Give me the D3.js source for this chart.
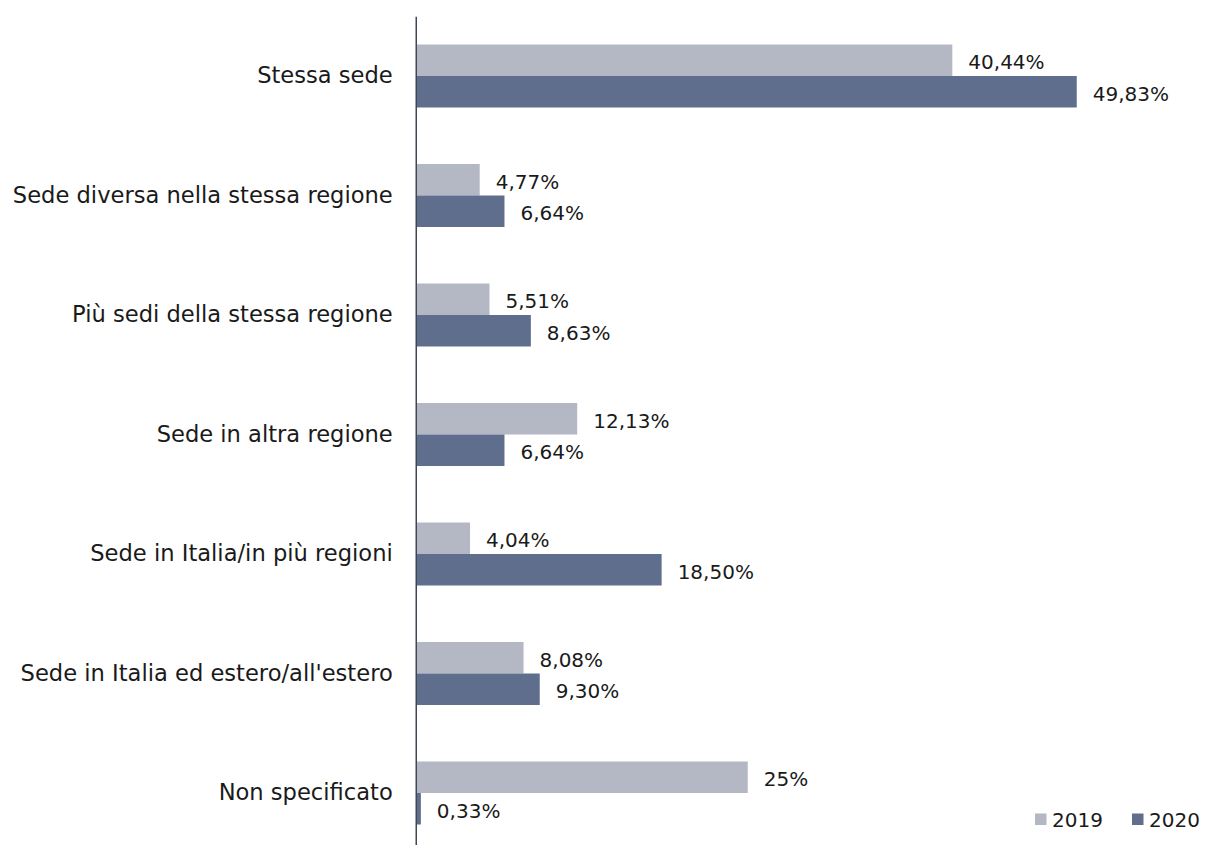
<!DOCTYPE html>
<html><head><meta charset="utf-8">
<script src="https://cdn.jsdelivr.net/npm/d3@7"></script>
<style>
html,body{margin:0;padding:0;background:#fff;}
svg{display:block;}
text{font-family:"DejaVu Sans",sans-serif;fill:#1a1a1a;}
</style></head>
<body>
<svg id="chart" width="1207" height="845"></svg>
<script>
const categories = [
  "Stessa sede",
  "Sede diversa nella stessa regione",
  "Più sedi della stessa regione",
  "Sede in altra regione",
  "Sede in Italia/in più regioni",
  "Sede in Italia ed estero/all'estero",
  "Non specificato"
];
const seriesNames = ["2019", "2020"];
const values2019 = [40.44, 4.77, 5.51, 12.13, 4.04, 8.08, 25];
const values2020 = [49.83, 6.64, 8.63, 6.64, 18.50, 9.30, 0.33];
const labels2019 = ["40,44%", "4,77%", "5,51%", "12,13%", "4,04%", "8,08%", "25%"];
const labels2020 = ["49,83%", "6,64%", "8,63%", "6,64%", "18,50%", "9,30%", "0,33%"];
const colors = ["#b4b8c4", "#5f6e8c"];

const svg = d3.select("#chart");
const x0 = 416.5;
const x = d3.scaleLinear().domain([0, 50]).range([x0, x0 + 662.5]);
const y = d3.scaleBand().domain(categories).range([16.25, 852.75])
  .paddingInner(0.473).paddingOuter(0.2365);
const ySub = d3.scaleBand().domain(seriesNames).range([0, y.bandwidth()]).padding(0);
const color = d3.scaleOrdinal().domain(seriesNames).range(colors);

const rows = categories.map((c, i) => ({
  cat: c,
  items: [
    {s: "2019", v: values2019[i], l: labels2019[i]},
    {s: "2020", v: values2020[i], l: labels2020[i]}
  ]
}));

const g = svg.append("g");
const groups = g.selectAll("g.grp").data(rows).join("g")
  .attr("class", "grp")
  .attr("transform", d => `translate(0,${y(d.cat)})`);

groups.selectAll("rect").data(d => d.items).join("rect")
  .attr("x", x(0))
  .attr("y", d => ySub(d.s))
  .attr("width", d => x(d.v) - x(0))
  .attr("height", ySub.bandwidth())
  .attr("fill", d => color(d.s));

groups.selectAll("text.val").data(d => d.items).join("text")
  .attr("class", "val")
  .attr("x", d => x(d.v) + 16)
  .attr("y", d => ySub(d.s) + ySub.bandwidth() / 2 + 2)
  .attr("dy", "0.35em")
  .attr("font-size", 20)
  .text(d => d.l);

// Category axis
const axis = d3.axisLeft(y).tickSize(0).tickPadding(23);
const ax = svg.append("g").attr("transform", `translate(${x0 - 0.75},0)`).call(axis);
ax.select(".domain").attr("stroke", "#3f4757").attr("stroke-width", 1.5);
ax.selectAll(".tick text")
  .attr("font-family", "DejaVu Sans, sans-serif")
  .attr("font-size", 22.6)
  .attr("fill", "#1a1a1a");

// Legend
const legend = svg.append("g").attr("class", "legend");
const legX = [1035, 1132];
seriesNames.forEach((s, i) => {
  legend.append("rect")
    .attr("x", legX[i]).attr("y", 813.5)
    .attr("width", 11.5).attr("height", 11.5)
    .attr("fill", color(s));
  legend.append("text")
    .attr("x", legX[i] + 17).attr("y", 819.5)
    .attr("dy", "0.35em")
    .attr("font-size", 20)
    .text(s);
});
</script>
</body></html>
